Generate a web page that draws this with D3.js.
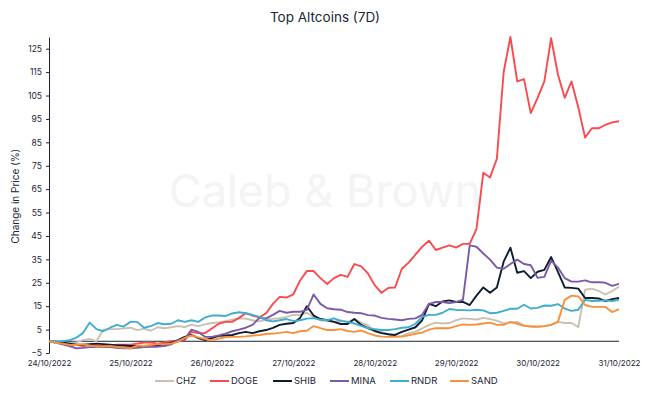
<!DOCTYPE html>
<html>
<head>
<meta charset="utf-8">
<script src="https://cdnjs.cloudflare.com/ajax/libs/d3/7.8.5/d3.min.js"></script>
<style>
  body { margin: 0; background: #fff; }
  text { font-family: Inter, "Noto Sans", sans-serif; fill: #1b2535; }
</style>
</head>
<body>
<div id="main"></div>
<script>
// readings every 2 hours from 24/10/2022 00:00 to 31/10/2022 00:00
var startDate = new Date(Date.UTC(2022, 9, 24));
var stepHours = 2;

var coins = ["CHZ", "DOGE", "SHIB", "MINA", "RNDR", "SAND"];
var colors = ["#c9c0b1", "#fb4a4d", "#0c1d30", "#7b5aa8", "#3fadcb", "#f8913a"];

var chz = [0, -0.3, -0.5, -0.8, -0.5, 0.5, 1, 0, 5, 5.2, 5.2, 5.5, 5.8, 4.8, 5.4, 4.5, 6, 5.6, 6, 6.5,
  6.1, 7, 6.5, 7.2, 7.8, 8.1, 8.6, 9.2, 9.8, 9.7, 9, 8.5, 9.3, 9.6, 9.9, 10.4, 11.3, 11.3, 12.2, 10.4,
  9, 8.8, 8.4, 8.9, 8.3, 9.5, 8, 6.8, 4.5, 4, 3, 2.2, 2.2, 3.5, 4, 5.5, 7, 8, 7.6, 7.8,
  9, 9.8, 9.6, 9.3, 10, 9.5, 8.8, 7.6, 8, 8.3, 6.8, 6.3, 6.1, 6.5, 7, 8.3, 7.8, 7.8, 6.1, 22,
  22.5, 21.5, 20, 21.5, 23.3];
var doge = [0, -0.5, -1, -1.5, -1.5, -2, -1.5, -2, -2, -2, -1.5, -1.5, -1.5, -1, -0.5, -0.5, -1, -0.5, 0, 0,
  0.5, 4, 3.5, 3.5, 5.5, 7.5, 8.3, 8.3, 10, 12, 11, 10.2, 12, 16, 19, 18.7, 20, 26, 30, 30,
  27, 24.5, 27, 28.4, 27.5, 33, 32, 29, 24, 20.7, 22.8, 23, 31, 33.6, 37, 40.4, 43, 39, 40, 41,
  40, 41.6, 41.6, 48, 72, 70, 78, 115, 130, 111, 112, 97.5, 104, 111, 129.5, 114, 104, 111, 100, 87,
  91, 91, 92.5, 93.5, 94];
var shib = [0, -0.3, -0.5, -1, -1.5, -1.5, -1.2, -1, -1.2, -1.5, -1.8, -1.8, -2, -2, -2.2, -2, -1.8, -1.2, -0.7, 0.5,
  1.9, 2.7, 1.4, 0.5, 1.4, 2.3, 2.5, 2.7, 3.5, 4, 3.5, 4.3, 4.8, 5.7, 7, 7.5, 7.8, 10, 15, 11,
  9.5, 9, 8.3, 7.4, 7.4, 9.5, 7, 5.6, 4.4, 3.5, 3, 2.7, 4, 5, 6, 9, 16, 15, 17, 17.5,
  16.8, 16.8, 15.5, 19.5, 23, 20.7, 23, 34, 40, 29.3, 30, 27, 29.7, 30.5, 36, 29.7, 23, 22.8, 22.5, 18.5,
  18.5, 18.3, 17.2, 18, 18.5];
var mina = [0, -0.5, -1.3, -2, -3, -2.8, -2.5, -2.5, -2.5, -2.5, -2.8, -3, -3, -2.8, -2.5, -2.3, -2.3, -2, -1.3, 0.5,
  1, 5, 4, 1.9, 1.9, 2.5, 3.3, 4.3, 5, 5.8, 7, 10, 9.8, 11.3, 13, 12.2, 12.6, 12.6, 13.4, 20,
  16, 14.1, 13.7, 13.5, 12.5, 12.2, 12, 11.2, 11, 10, 9.6, 9.3, 9, 9.6, 9.8, 11.3, 16, 16.8, 16.8, 16.3,
  16.8, 17.7, 41, 40.4, 37.5, 34.9, 31.5, 31, 33, 34.9, 33, 32.5, 27.1, 27.5, 34.5, 31.5, 27, 25.5, 25.5, 26,
  25.2, 25.3, 25, 23.7, 24.5];
var rndr = [0, 0, 0, 0.5, 1.5, 3.5, 8, 5.2, 4.3, 5.8, 7, 6.3, 8.3, 8.3, 5.8, 6.5, 7.8, 7.3, 7.5, 9,
  8.3, 9, 8.3, 10.2, 11, 11, 10.8, 11.9, 12.4, 12, 11.3, 10.4, 9, 8.5, 9, 9.5, 8.7, 9, 9.7, 9.9,
  9.2, 9, 9.8, 8.7, 8.3, 7.6, 6.6, 5.6, 5.2, 4.8, 4.8, 5.2, 5.8, 6, 7.5, 10.4, 11.3, 11.3, 12.2, 13.8,
  13.4, 13.3, 13.2, 13.5, 13.2, 12, 12.2, 13, 13.9, 13.9, 15.6, 14, 14.3, 15.3, 15.2, 15.9, 14, 13, 13.5, 17.7,
  17.2, 17.3, 17.5, 17.2, 17.7];
var sand = [0, -0.6, -1, -1.5, -1.6, -1.3, -1.8, -2.3, -2.2, -2, -2.4, -2.8, -3, -1.8, -2, -1.6, -1.2, -1.2, -1, -0.2,
  1.5, 2.5, 1.7, 1, 0.4, 1.2, 1.7, 1.9, 1.9, 2.1, 2.4, 2.7, 3.1, 3.3, 3.6, 4, 3.5, 4.3, 4.5, 6.5,
  5.6, 4.8, 4.8, 5.2, 4.4, 4, 4.6, 3.5, 2.5, 2, 1.9, 1.9, 2, 2.6, 3.2, 3.7, 5, 5.6, 5.6, 5.6,
  6.5, 7.2, 7, 7.2, 7.6, 8, 7, 7, 8.3, 7.5, 6.6, 6.3, 6.3, 6.5, 7, 8.3, 17.7, 19.5, 19.2, 15.5,
  14.7, 14.7, 14.7, 12.5, 13.7];

var seriesValues = [chz, doge, shib, mina, rndr, sand];
var yTicks = d3.range(-5, 126, 10);

var width = 649, height = 396;
var margin = { top: 37, right: 30, bottom: 43, left: 49 };

var svg = d3.select("#main")
  .append("svg")
  .attr("width", width)
  .attr("height", height);

// watermark
svg.append("text")
  .attr("x", 325)
  .attr("y", 207)
  .attr("text-anchor", "middle")
  .style("font-size", "45px")
  .style("fill", "#f4f4f4")
  .text("Caleb & Brown");

svg.append("text")
  .attr("x", 325)
  .attr("y", 22)
  .attr("text-anchor", "middle")
  .style("font-size", "13.5px")
  .text("Top Altcoins (7D)");

var endDate = d3.utcHour.offset(startDate, stepHours * (chz.length - 1));

var x = d3.scaleUtc()
  .domain([startDate, endDate])
  .range([margin.left, width - margin.right]);

var y = d3.scaleLinear()
  .domain([-5, 130])
  .range([height - margin.bottom, margin.top]);

// y axis
var yAxis = svg.append("g")
  .attr("transform", "translate(" + margin.left + ",0)")
  .call(d3.axisLeft(y).tickValues(yTicks).tickSize(3).tickSizeOuter(0).tickPadding(4));
yAxis.selectAll("text").style("font-size", "8.5px");
yAxis.selectAll("line, path").style("stroke", "#1b2535");

svg.append("text")
  .attr("transform", "translate(19," + y(62) + ") rotate(-90)")
  .attr("text-anchor", "middle")
  .style("font-size", "10px")
  .text("Change in Price (%)");

// x axis: line at zero, labels below plot
svg.append("line")
  .attr("x1", x(startDate)).attr("x2", x(endDate))
  .attr("y1", y(0)).attr("y2", y(0))
  .style("stroke", "#1b2535")
  .style("stroke-width", 1);

var xAxis = svg.append("g")
  .attr("transform", "translate(0," + y(-5) + ")")
  .call(d3.axisBottom(x).ticks(d3.utcDay.every(1)).tickFormat(d3.utcFormat("%d/%m/%Y")).tickSize(0).tickPadding(7));
xAxis.select(".domain").remove();
xAxis.selectAll("text").style("font-size", "8px");

var line = d3.line()
  .x(function(d, i) { return x(d3.utcHour.offset(startDate, i * stepHours)); })
  .y(function(d) { return y(d); });

svg.selectAll(".data-line")
  .data(seriesValues)
  .enter()
  .append("path")
  .classed("data-line", true)
  .attr("d", function(d) { return line(d); })
  .style("fill", "none")
  .style("stroke", function(d, i) { return colors[i]; })
  .style("stroke-width", 1.9)
  .style("stroke-linejoin", "round");

// legend
var legendX = [155, 210, 273, 330, 390, 450];
var legend = svg.selectAll(".legend")
  .data(coins)
  .enter()
  .append("g")
  .classed("legend", true)
  .attr("transform", function(d, i) { return "translate(" + legendX[i] + ",381)"; });

legend.append("line")
  .attr("x1", 0).attr("x2", 19)
  .style("stroke", function(d, i) { return colors[i]; })
  .style("stroke-width", 2);

legend.append("text")
  .attr("x", 21)
  .attr("dy", "0.35em")
  .style("font-size", "9.5px")
  .text(function(d) { return d; });
</script>
</body>
</html>
